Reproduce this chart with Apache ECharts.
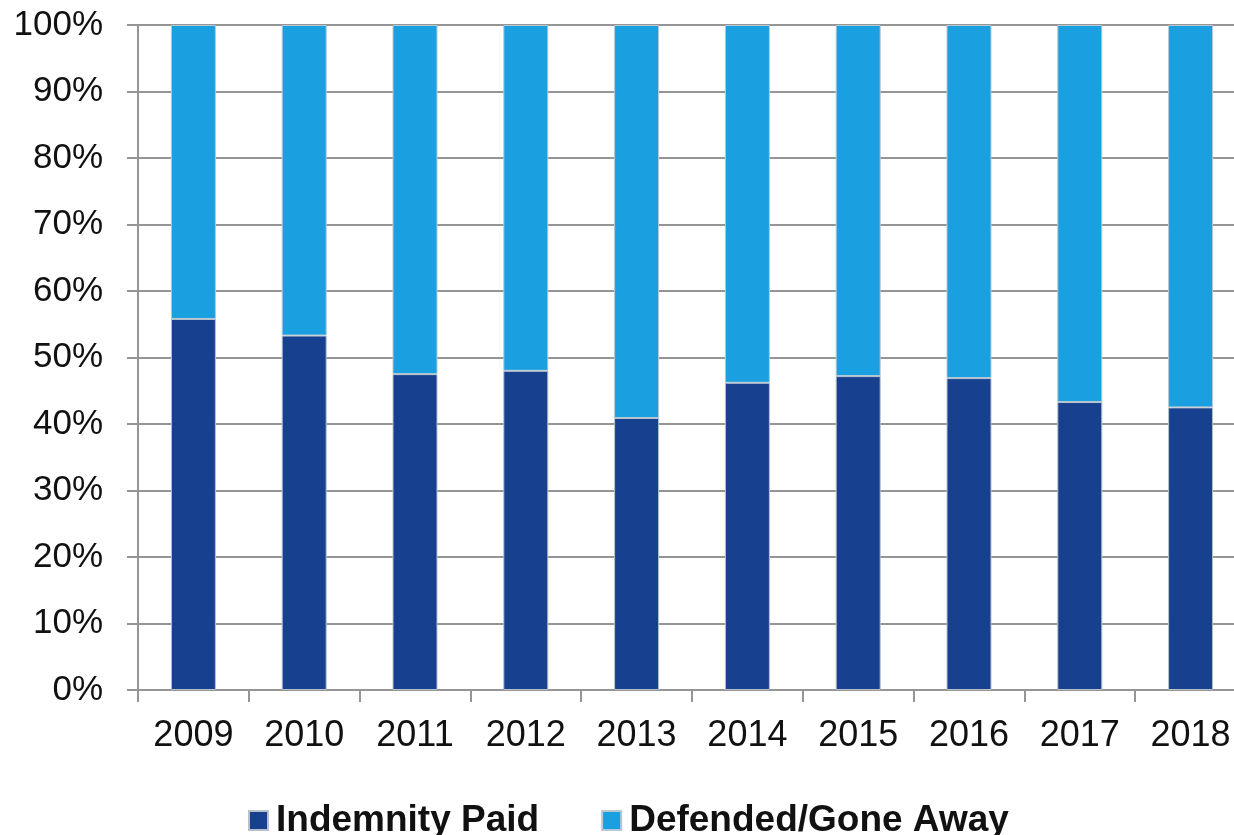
<!DOCTYPE html>
<html>
<head>
<meta charset="utf-8">
<script src="https://cdn.jsdelivr.net/npm/echarts@6/dist/echarts.min.js"></script>
<style>html,body{margin:0;padding:0;background:#fff}#c{width:1234px;height:835px}</style>
</head>
<body>
<div id="c"></div>
<script>
const categories = ['2009','2010','2011','2012','2013','2014','2015','2016','2017','2018'];
const indemnityPaid = [55.8, 53.3, 47.5, 48.0, 40.9, 46.2, 47.2, 46.9, 43.3, 42.5];
const defendedGoneAway = [44.2, 46.7, 52.5, 52.0, 59.1, 53.8, 52.8, 53.1, 56.7, 57.5];
const yTicks = [0, 10, 20, 30, 40, 50, 60, 70, 80, 90, 100];

const chart = echarts.init(document.getElementById('c'));
const axisGray = '#959595';
chart.setOption({
  animation: false,
  backgroundColor: '#fff',
  grid: { left: 138, width: 1108, top: 25, bottom: 145, containLabel: false, outerBoundsMode: 'none' },
  legend: {
    left: 243, top: 797,
    itemWidth: 19, itemHeight: 19, itemGap: 62,
    icon: 'rect',
    textStyle: { fontFamily: 'Liberation Sans', fontWeight: 'bold', fontSize: 37, color: '#111', padding: [0,0,0,3] },
    data: ['Indemnity Paid', 'Defended/Gone Away']
  },
  xAxis: {
    type: 'category', data: categories, boundaryGap: true,
    axisLine: { lineStyle: { color: axisGray, width: 2 } },
    axisTick: { show: true, length: 12, inside: false, lineStyle: { color: axisGray, width: 2 } },
    axisLabel: { fontFamily: 'Liberation Sans', fontSize: 36, color: '#111', margin: 28 }
  },
  yAxis: {
    type: 'value', min: 0, max: 100, interval: 10,
    axisLine: { show: true, lineStyle: { color: axisGray, width: 2 } },
    axisTick: { show: true, length: 11, lineStyle: { color: axisGray, width: 2 } },
    splitLine: { show: true, lineStyle: { color: axisGray, width: 2 } },
    axisLabel: {
      fontFamily: 'Liberation Sans', fontSize: 35, color: '#111', margin: 35,
      formatter: v => yTicks.includes(v) ? v + '%' : ''
    }
  },
  series: [
    { name: 'Indemnity Paid', type: 'bar', stack: 's', barWidth: 45, data: indemnityPaid,
      itemStyle: { color: '#17418F', borderColor: '#b8c0cc', borderWidth: 1 } },
    { name: 'Defended/Gone Away', type: 'bar', stack: 's', barWidth: 45, data: defendedGoneAway,
      itemStyle: { color: '#1A9FE0', borderColor: '#b8c8d4', borderWidth: 1 } }
  ]
});
</script>
</body>
</html>
